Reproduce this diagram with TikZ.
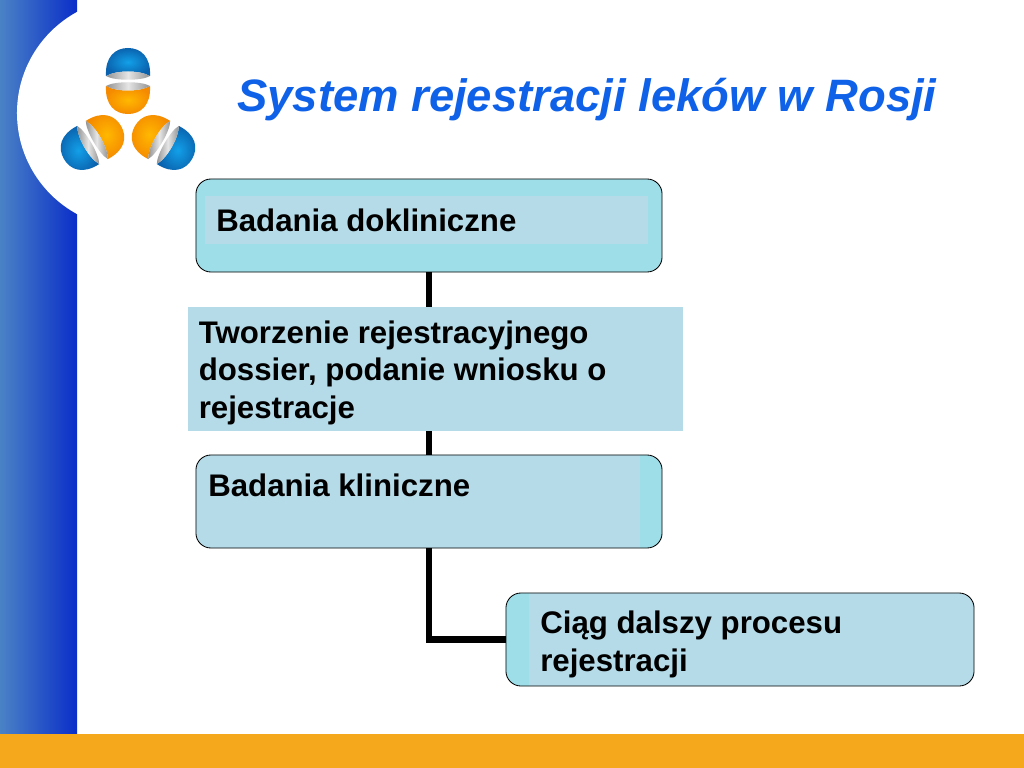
\documentclass[tikz,border=0pt]{standalone}
\usepackage{fontspec}
\setmainfont{Liberation Sans}
\usetikzlibrary{positioning}

\definecolor{outerblue}{HTML}{9EDEE9}
\definecolor{innerblue}{HTML}{B5DBE8}
\definecolor{barorange}{HTML}{F5A81C}
\definecolor{titleblue}{HTML}{0F62E8}
\definecolor{bandleft}{HTML}{4A82C6}
\definecolor{bandmid}{HTML}{3F6FA8}
\definecolor{bandright}{HTML}{0A2EC8}
\definecolor{ballblue}{HTML}{12A0E8}
\definecolor{ballblueedge}{HTML}{0A62AE}
\definecolor{ballorange}{HTML}{FFB800}
\definecolor{ballorangeedge}{HTML}{F58A00}

\tikzset{
	boxfont/.style={font=\fontsize{22.2}{26.6}\selectfont\bfseries, text=black, inner sep=0pt, align=left},
	stage/.style={draw=black, line width=0.6pt, rounded corners=0.375cm, fill=outerblue, minimum width=11.65cm, minimum height=2.325cm},
	stripeleft/.style={path picture={\fill[innerblue, sharp corners] ([xshift=#1 cm]path picture bounding box.north west) rectangle (path picture bounding box.south east);}},
	striperight/.style={path picture={\fill[innerblue, sharp corners] (path picture bounding box.north west) rectangle ([xshift=-#1 cm]path picture bounding box.south east);}},
	link/.style={line width=4.4pt, line cap=butt},
}

% half of one ball, dome pointing up
\newcommand{\halfball}[2]{
	\shade[inner color=#1, outer color=#2] (-22, 5) .. controls (-23, 24) and (-13, 33) .. (0, 33)
		.. controls (13, 33) and (23, 24) .. (22, 5) .. controls (12, 11) and (-12, 11) .. cycle;
	\shade[left color=gray!85, right color=gray!85, middle color=gray!20] (-22, 5) .. controls (-12, 11) and (12, 11) .. (22, 5)
		.. controls (14, 0) and (-14, 0) .. cycle;
}
\newcommand{\oneball}[1]{
	\begin{scope}[shift={(128, 122)}, rotate=#1, y=0.025cm, shift={(0, 41)}]
		\halfball{ballblue}{ballblueedge}
		\begin{scope}[yscale=-1]
			\halfball{ballorange}{ballorangeedge}
		\end{scope}
	\end{scope}
}

\begin{document}
\begin{tikzpicture}[x=0.025cm, y=-0.025cm]
	\useasboundingbox (0, 0) rectangle (1024, 768);

	% slide frame
	\shade[left color=bandleft, middle color=bandmid, right color=bandright] (0, 0) rectangle (77, 734);
	\fill[white] (132, 113) circle (2.875cm);
	\fill[barorange] (0, 734) rectangle (1024, 768);

	% logo
	\foreach \turn in {0, 120, -120} {
		\oneball{\turn}
	}

	\node[anchor=base west, inner sep=0pt, text=titleblue, font=\fontsize{32.3}{38}\selectfont\bfseries\itshape] (title) at (237, 112) {System rejestracji leków w Rosji};

	% stages
	\node[stage] (doklin) at (429, 225.5) {};
	\node[fill=innerblue, minimum width=11.075cm, minimum height=1.175cm] (doklinbox) at (426.5, 220) {};
	\node[boxfont, anchor=base west] (doklintext) at (216, 231.5) {Badania dokliniczne};

	\node[stage, striperight=0.55] (klin) at (429, 501.5) {};
	\node[boxfont, anchor=base west] (klintext) at (208, 496) {Badania kliniczne};

	\node[stage, stripeleft=0.575, minimum width=11.7cm] (dalszy) at (740, 639.5) {};
	\node[boxfont, anchor=north west] (dalszytext) at (540, 611) {Ciąg dalszy procesu\\rejestracji};

	% connectors go under the dossier box
	\draw[link] (doklin) -- (klin);
	\draw[link] (klin) |- (dalszy);

	\node[fill=innerblue, minimum width=12.375cm, minimum height=3.1cm] (dossier) at (435.5, 369) {};
	\node[boxfont, anchor=north west] (dossiertext) at (198.5, 320.5) {Tworzenie rejestracyjnego\\dossier, podanie wniosku o\\rejestracje};
\end{tikzpicture}
\end{document}
